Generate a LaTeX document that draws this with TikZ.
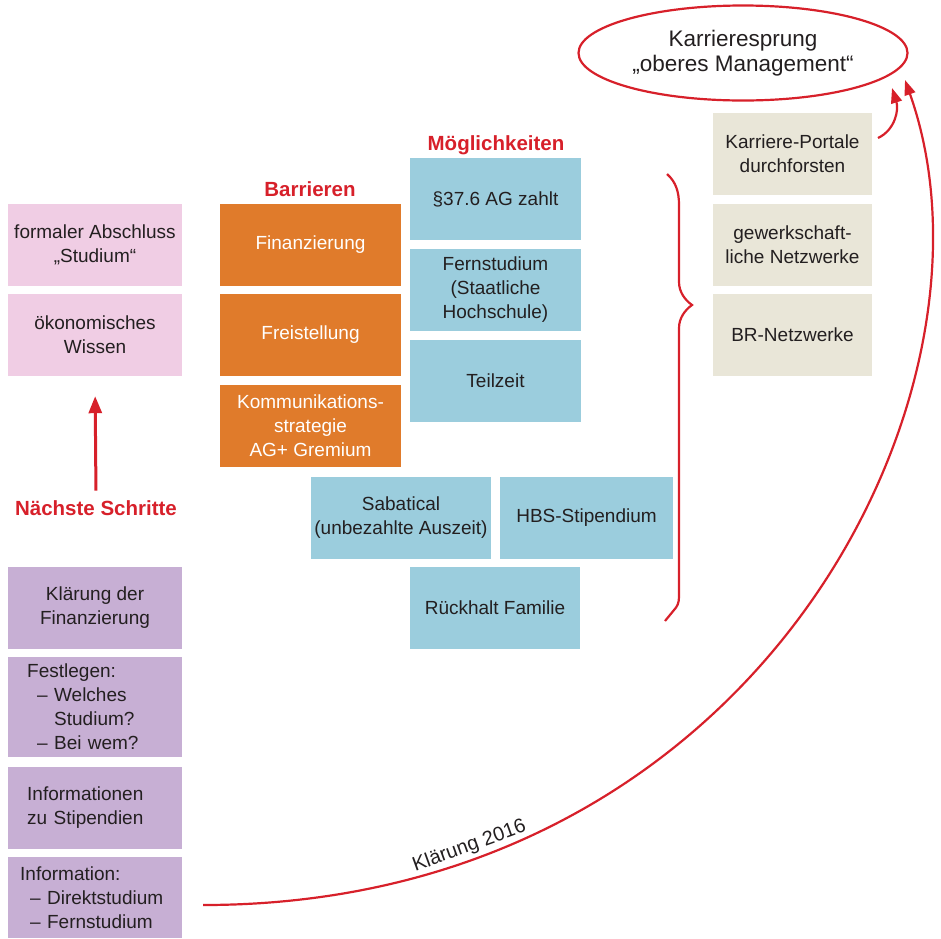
\documentclass[tikz,border=0pt]{standalone}
\usepackage{fontspec}
\setmainfont{Liberation Sans}
\usetikzlibrary{shapes.geometric,arrows.meta}

\definecolor{rosa}{HTML}{F0CDE4}
\definecolor{lila}{HTML}{C7AFD4}
\definecolor{orange}{HTML}{E07B2B}
\definecolor{hellblau}{HTML}{9BCDDD}
\definecolor{beige}{HTML}{E9E6D8}
\definecolor{rot}{HTML}{D7202A}
\definecolor{schrift}{HTML}{231F20}

\tikzset{
  kasten/.style={minimum height=82pt, inner sep=0pt, align=center, text=schrift,
    font=\fontsize{19}{24}\selectfont},
  links/.style={align=left, anchor=west},
  titel/.style={anchor=base, text=rot, font=\fontsize{20.5}{24}\bfseries\selectfont},
  pfeil/.style={draw=rot, line width=2.2pt, -{Triangle[length=15pt,width=11pt]}},
}

\begin{document}
\begin{tikzpicture}[x=1pt,y=-1pt]
				% Rahmen
				\useasboundingbox (0,0) rectangle (941,938);
				% Ziel
				\node[ellipse, draw=rot, line width=2.2pt, minimum width=329pt, minimum height=95pt,
					inner sep=0pt, align=center, text=schrift, font=\fontsize{22.5}{25}\selectfont]
					(ziel) at (743,53) {Karrieresprung\\„oberes Management“};
				% Ueberschriften
				\node[titel] (barrieren) at (310,196) {Barrieren};
				\node[titel] (moeglich) at (496,150) {Möglichkeiten};
				\node[titel] (naechste) at (96,515) {Nächste Schritte};
				% Ziele (rosa)
				\foreach \name/\y/\txt in {abschluss/245/{formaler Abschluss\\„Studium“},
						oekonom/335/{ökonomisches\\Wissen}}
					\node[kasten, fill=rosa, minimum width=174pt] (\name) at (95,\y) {\txt};
				% Barrieren (orange)
				\foreach \name/\y/\txt in {fin/245/Finanzierung, frei/335/Freistellung,
						komm/426/{Kommunikations-\\strategie\\AG+ Gremium}}
					\node[kasten, fill=orange, text=white, minimum width=181pt] (\name) at (310.5,\y) {\txt};
				% Moeglichkeiten (blau)
				\foreach \name/\y/\txt in {par/199/§37.6 AG zahlt,
						fern/289.5/{Fernstudium\\(Staatliche\\Hochschule)},
						teil/380.5/Teilzeit}
					\node[kasten, fill=hellblau, minimum width=171pt] (\name) at (495.5,\y) {\txt};
				\node[kasten, fill=hellblau, minimum width=180pt] (sab) at (401,517.5) {Sabatical\\(unbezahlte Auszeit)};
				\node[kasten, fill=hellblau, minimum width=173pt] (hbs) at (586.5,517.5) {HBS-Stipendium};
				\node[kasten, fill=hellblau, minimum width=170pt] (rueck) at (495,607.5) {Rückhalt Familie};
				% Netzwerke (beige)
				\foreach \name/\y/\txt in {portale/154/{Karriere-Portale\\durchforsten},
						gewerk/245/{gewerkschaft-\\liche Netzwerke},
						brnetz/335/BR-Netzwerke}
					\node[kasten, fill=beige, minimum width=159pt] (\name) at (792.5,\y) {\txt};
				% Schritte (lila)
				\node[kasten, fill=lila, minimum width=174pt] (klaerung) at (95,607.5) {Klärung der\\Finanzierung};
				\node[kasten, links, fill=lila, minimum width=174pt, minimum height=100pt, inner xsep=19pt,
					text width=136pt] (festlegen) at (8,707) {Festlegen:\\\hspace*{10pt}– Welches\\\hspace*{27pt}Studium?\\\hspace*{10pt}– Bei wem?};
				\node[kasten, links, fill=lila, minimum width=174pt, inner xsep=19pt, text width=136pt]
					(stipinfo) at (8,807.5) {Informationen\\zu Stipendien};
				\node[kasten, links, fill=lila, minimum width=174pt, minimum height=81pt, inner xsep=12pt,
					text width=150pt] (info) at (8,897.5) {Information:\\\hspace*{10pt}– Direktstudium\\\hspace*{10pt}– Fernstudium};
				% Klammer
				\draw[rot, line width=2.2pt] (667,174) .. controls (676,182) and (679,192) .. (679,205)
					-- (679,282) .. controls (679,292) and (685,300) .. (692,305)
					.. controls (685,310) and (679,318) .. (679,328) -- (679,597)
					.. controls (679,603) and (677,607) .. (674,610) -- (665,621);
				% Pfeile
				\coordinate (start) at (203,905);
				\coordinate (spitzeA) at (905,80);
				\coordinate (abgang) at (878,138);
				\coordinate (spitzeB) at (892,88);
				\draw[pfeil, line width=3pt, -{Triangle[length=17pt,width=13pt]}, shorten <=6pt, shorten >=20pt]
					(naechste.north) -- (oekonom.south);
				\draw[pfeil] (abgang) .. controls (895,130) and (899,110) .. (spitzeB);
				\draw[pfeil] (start) .. controls (760,905) and (1015,390) .. (spitzeA)
					node[pos=0.18, sloped, above, text=schrift, font=\fontsize{20}{24}\selectfont, inner sep=3pt] (jahr) {Klärung 2016};
			\end{tikzpicture}
\end{document}
